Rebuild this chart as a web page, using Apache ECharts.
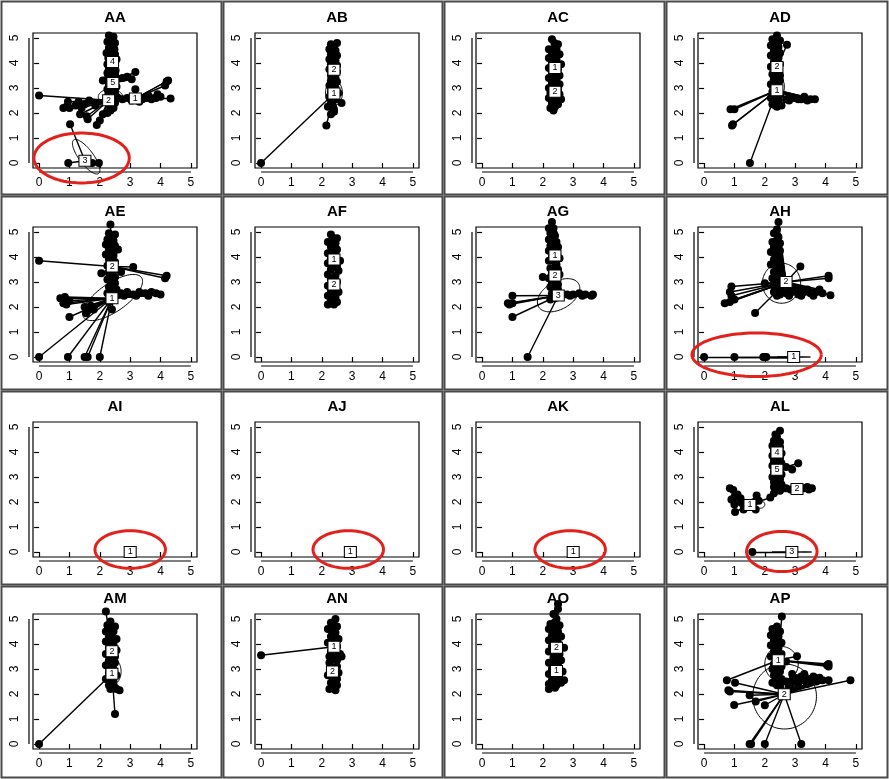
<!DOCTYPE html>
<html><head><meta charset="utf-8">
<script src="https://cdn.jsdelivr.net/npm/echarts@6/dist/echarts.min.js"></script>
<style>html,body{margin:0;padding:0;background:#fff}#c{width:889px;height:779px}</style>
</head><body><div id="c"></div>
<script>
const panelNames = ['AA','AB','AC','AD','AE','AF','AG','AH','AI','AJ','AK','AL','AM','AN','AO','AP'];
const tickValues = [0,1,2,3,4,5];

// ---- AA ----
const AA_ctr = [[3.17,2.58,'1'],[2.29,2.51,'2'],[1.51,0.09,'3'],[2.42,4.04,'4'],[2.43,3.2,'5']];
const AA_pts = [
 [[2.6,2.6],[2.75,2.55],[2.9,2.6],[3.05,2.5],[3.4,2.55],[3.55,2.6],[3.7,2.55],[3.85,2.6],[4.0,2.65],[4.33,2.58],[4.2,3.26],[4.25,3.3],[4.15,3.1],[3.17,2.95],[3.6,2.7],[3.9,2.75],[3.3,2.45]],
 [[2.5,2.85],[2.28,2.75],[2.55,2.65],[2.25,2.5],[2.5,2.4],[2.3,2.3],[2.45,2.2],[2.35,2.1],[2.4,2.7],[2.38,2.4],[2.4,2.25],[0,2.7],[0.8,2.2],[0.9,2.25],[1.0,2.2],[0.95,2.45],[1.2,2.3],[1.4,2.2],[1.5,2.35],[1.3,2.45],[1.65,2.5],[1.85,2.3],[1.57,1.87],[1.6,1.75],[1.9,1.52],[2.0,1.7],[2.1,1.95],[1.35,1.95],[2.25,2.0]],
 [[1.02,1.55],[0.96,0],[1.75,0],[1.97,0]],
 [[2.3,5.1],[2.45,5.05],[2.25,4.85],[2.5,4.8],[2.3,4.6],[2.48,4.55],[2.22,4.4],[2.5,4.35],[2.28,4.2],[2.55,4.15],[2.25,3.95],[2.5,3.9],[2.3,3.75],[2.52,3.7],[2.25,3.6],[2.38,5.0],[2.4,4.75],[2.36,4.5],[2.4,4.3],[2.38,3.85],[2.4,3.65]],
 [[2.5,3.55],[2.28,3.45],[2.55,3.4],[2.25,3.3],[2.1,3.3],[2.5,3.2],[2.3,3.1],[2.55,3.05],[2.25,2.95],[2.4,3.4],[2.38,3.0],[3.17,3.64],[3.05,3.35],[2.9,3.45],[2.75,3.4]]
];
const AA_ell = [[2.35,2.65,0.4,0,0,0.3],[1.55,0.25,-0.41,0.67,0.19,0.17]];

// ---- AB ----
const AB_ctr = [[2.4,2.78,'1'],[2.4,3.73,'2']];
const AB_pts = [
 [[2.3,3.3],[2.5,3.25],[2.25,3.1],[2.45,3.0],[2.3,2.85],[2.55,2.8],[2.25,2.65],[2.45,2.55],[2.3,2.4],[2.65,2.4],[2.2,2.25],[2.4,2.15],[2.3,1.95],[2.4,3.15],[2.38,2.95],[2.4,2.6],[2.36,2.3],[2.4,2.05],[2.15,1.5],[0,0]],
 [[2.3,4.75],[2.5,4.8],[2.25,4.55],[2.45,4.5],[2.3,4.35],[2.5,4.3],[2.25,4.15],[2.45,4.1],[2.3,3.95],[2.5,3.9],[2.25,3.75],[2.5,3.65],[2.3,3.5],[2.45,3.4],[2.38,4.65],[2.4,4.4],[2.36,4.2],[2.4,4.0],[2.38,3.55]]
];
const AB_ell = [[2.4,2.8,0.28,0,0,0.5]];

// ---- AC ----
const AC_ctr = [[2.4,3.8,'1'],[2.4,2.85,'2']];
const AC_pts = [
 [[2.3,4.95],[2.5,4.75],[2.2,4.55],[2.45,4.55],[2.3,4.4],[2.55,4.35],[2.2,4.2],[2.45,4.15],[2.3,4.0],[2.6,3.95],[2.2,3.8],[2.5,3.75],[2.3,3.6],[2.55,3.5],[2.2,3.4],[2.38,4.8],[2.4,4.6],[2.36,4.3],[2.4,4.05],[2.38,3.6],[2.4,3.45]],
 [[2.45,3.35],[2.3,3.2],[2.55,3.15],[2.2,3.0],[2.5,2.95],[2.25,2.8],[2.55,2.75],[2.2,2.6],[2.45,2.55],[2.3,2.4],[2.5,2.35],[2.25,2.2],[2.35,2.1],[2.6,2.55],[2.38,3.1],[2.4,2.65],[2.38,2.45],[2.4,2.25]]
];
const AC_ell = [];

// ---- AD ----
const AD_ctr = [[2.4,2.91,'1'],[2.4,3.84,'2']];
const AD_pts = [
 [[2.3,3.35],[2.5,3.3],[2.2,3.15],[2.45,3.05],[2.25,2.85],[2.5,2.75],[2.2,2.6],[2.45,2.5],[2.25,2.35],[2.4,2.25],[2.55,2.3],[2.38,3.2],[2.36,2.7],[2.4,2.45],[2.35,2.3],[2.7,2.55],[2.9,2.6],[3.1,2.55],[3.3,2.65],[3.5,2.55],[3.65,2.55],[2.8,2.5],[3.0,2.6],[3.2,2.55],[3.4,2.5],[0.87,2.15],[1.0,2.15],[0.95,1.55],[0.92,1.5],[1.51,0]],
 [[2.4,5.1],[2.25,4.95],[2.5,4.9],[2.2,4.7],[2.45,4.65],[2.3,4.5],[2.5,4.4],[2.2,4.3],[2.45,4.2],[2.3,4.05],[2.5,3.95],[2.2,3.85],[2.45,3.7],[2.25,3.55],[2.5,3.5],[2.38,4.8],[2.36,4.55],[2.4,4.35],[2.38,4.1],[2.36,3.6],[2.73,4.73]]
];
const AD_ell = [[2.4,3.05,0.25,0,0,0.4]];

// ---- AE ----
const AE_ctr = [[2.4,2.35,'1'],[2.41,3.62,'2']];
const AE_pts = [
 [[2.5,3.2],[2.25,3.1],[2.5,2.95],[2.3,2.8],[2.55,2.7],[2.25,2.55],[2.5,2.45],[2.38,3.05],[2.4,2.85],[2.38,2.6],[2.7,2.55],[2.9,2.6],[3.1,2.5],[3.3,2.6],[3.5,2.55],[3.7,2.6],[3.85,2.55],[4.0,2.5],[3.2,2.45],[3.6,2.45],[2.8,2.45],[0.7,2.35],[0.85,2.4],[0.8,2.15],[0.9,2.1],[1.0,2.25],[1.0,1.6],[1.5,2.0],[1.6,1.85],[1.7,2.05],[1.55,1.75],[1.8,1.9],[2.4,1.9],[0,0],[0.95,0],[1.5,0],[1.6,0],[2.0,0],[2.3,2.2]],
 [[2.35,5.3],[2.3,4.95],[2.5,4.9],[2.25,4.7],[2.45,4.65],[2.2,4.5],[2.5,4.45],[2.3,4.3],[2.6,4.3],[2.2,4.1],[2.45,4.05],[2.3,3.9],[2.5,3.8],[2.25,3.65],[2.5,3.5],[2.3,3.35],[2.38,4.8],[2.4,4.55],[2.38,4.2],[2.4,3.95],[2.4,3.45],[2.05,3.35],[0,3.85],[4.2,3.25],[4.15,3.15],[3.1,3.6],[2.7,3.4]]
];
const AE_ell = [[2.42,2.38,0.95,0.8,0.27,-0.46]];

// ---- AF ----
const AF_ctr = [[2.4,3.9,'1'],[2.4,2.9,'2']];
const AF_pts = [
 [[2.3,4.9],[2.5,4.75],[2.2,4.6],[2.45,4.55],[2.3,4.4],[2.5,4.3],[2.2,4.15],[2.45,4.1],[2.3,3.95],[2.6,3.85],[2.2,3.75],[2.5,3.65],[2.3,3.5],[2.55,3.45],[2.38,4.75],[2.4,4.45],[2.36,4.25],[2.38,4.05],[2.4,3.6]],
 [[2.2,3.3],[2.45,3.25],[2.3,3.1],[2.5,3.0],[2.2,2.85],[2.45,2.8],[2.3,2.65],[2.55,2.6],[2.2,2.45],[2.45,2.4],[2.3,2.25],[2.5,2.2],[2.2,2.1],[2.4,2.1],[2.38,3.15],[2.36,2.7],[2.4,2.5],[2.36,2.3],[2.35,2.15]]
];
const AF_ell = [];

// ---- AG ----
const AG_ctr = [[2.4,4.06,'1'],[2.4,3.26,'2'],[2.51,2.46,'3']];
const AG_pts = [
 [[2.3,5.4],[2.2,5.15],[2.35,5.15],[2.25,4.95],[2.4,4.85],[2.2,4.7],[2.45,4.6],[2.25,4.45],[2.5,4.4],[2.2,4.25],[2.45,4.2],[2.3,4.0],[2.55,3.95],[2.2,3.85],[2.45,3.7],[2.36,4.95],[2.38,4.55],[2.36,4.3],[2.4,3.8]],
 [[2.25,3.55],[2.5,3.5],[2.3,3.35],[2.55,3.3],[2.2,3.15],[2.45,3.1],[2.38,3.45],[2.36,3.0],[2.0,3.2],[2.3,2.95]],
 [[2.5,2.9],[2.25,2.8],[2.5,2.7],[2.3,2.55],[2.45,2.4],[2.25,2.3],[2.38,2.75],[2.4,2.35],[2.6,2.5],[2.8,2.5],[3.0,2.5],[3.2,2.55],[3.4,2.5],[3.6,2.45],[3.65,2.5],[2.9,2.45],[3.3,2.45],[1.0,2.45],[0.85,2.15],[0.9,2.1],[1.0,2.15],[1.0,1.6],[1.5,0]]
];
const AG_ell = [[2.52,2.47,0.66,0.46,0.23,-0.48]];

// ---- AH ----
const AH_ctr = [[2.95,0,'1'],[2.7,3.0,'2']];
const AH_pts = [
 [[0,0],[1,0],[1.95,0],[2.05,0],[2.0,0]],
 [[2.45,5.4],[2.4,5.1],[2.3,4.95],[2.45,4.8],[2.25,4.6],[2.5,4.55],[2.3,4.4],[2.5,4.25],[2.2,4.2],[2.45,4.05],[2.3,3.9],[2.5,3.8],[2.2,3.7],[2.45,3.55],[2.3,3.4],[2.5,3.3],[2.25,3.15],[2.5,3.0],[2.3,2.85],[2.55,2.75],[2.3,2.6],[2.5,2.5],[2.38,4.65],[2.4,4.35],[2.38,4.1],[2.36,3.75],[2.4,3.45],[2.38,3.1],[2.4,2.7],[2.4,2.45],[2.7,2.55],[2.9,2.6],[3.1,2.5],[3.3,2.6],[3.5,2.55],[3.7,2.6],[3.9,2.55],[2.8,2.45],[3.2,2.45],[3.6,2.45],[2.8,2.7],[3.2,2.65],[3.6,2.6],[3.8,2.7],[4.16,2.47],[3.0,2.7],[3.4,2.7],[4.1,3.25],[4.1,3.15],[3.17,3.62],[0.9,2.82],[0.85,2.6],[0.9,2.45],[0.68,2.15],[0.85,2.2],[1.0,2.3],[2.0,2.95],[1.68,1.76]]
];
const AH_ell = [[2.95,0,0.55,0,0,0],[2.55,2.95,0.63,0,0,0.8]];

// ---- AI, AJ, AK ----
const AI_ctr = [[3.0,0,'1']]; const AI_pts = [[]]; const AI_ell = [];
const AJ_ctr = [[2.94,0,'1']]; const AJ_pts = [[]]; const AJ_ell = [];
const AK_ctr = [[3.0,0,'1']]; const AK_pts = [[]]; const AK_ell = [];

// ---- AL ----
const AL_ctr = [[1.51,1.88,'1'],[3.06,2.52,'2'],[2.89,0,'3'],[2.4,3.98,'4'],[2.4,3.29,'5']];
const AL_pts = [
 [[0.85,2.55],[0.96,2.48],[1.0,2.2],[0.9,2.1],[1.1,2.3],[1.2,2.15],[1.02,1.6],[1.3,1.7],[1.25,1.95],[1.7,1.7],[1.65,2.0],[1.8,2.05],[1.73,2.26],[2.18,2.18],[1.0,1.9]],
 [[2.55,2.7],[2.3,2.6],[2.5,2.45],[2.3,2.35],[2.4,2.7],[2.4,2.5],[2.7,2.55],[2.85,2.5],[3.3,2.55],[3.45,2.5],[3.55,2.55],[3.4,2.6]],
 [[1.59,0]],
 [[2.5,4.85],[2.35,4.7],[2.4,4.6],[2.3,4.45],[2.5,4.4],[2.25,4.25],[2.5,4.2],[2.3,4.05],[2.55,3.95],[2.25,3.85],[2.5,3.75],[2.3,3.65],[2.4,4.35],[2.4,3.8]],
 [[2.55,3.55],[2.25,3.45],[2.5,3.35],[2.3,3.2],[2.55,3.1],[2.25,3.0],[2.5,2.9],[2.3,2.8],[2.4,3.45],[2.4,3.05],[2.4,2.85],[3.1,3.55],[2.9,3.3],[2.7,3.4]]
];
const AL_ell = [[1.85,1.9,0.15,0,0,0.15],[2.89,0,0.65,0,0,0]];

// ---- AM ----
const AM_ctr = [[2.4,2.81,'1'],[2.4,3.71,'2']];
const AM_pts = [
 [[2.5,3.25],[2.2,3.15],[2.45,3.0],[2.3,2.85],[2.55,2.75],[2.2,2.6],[2.45,2.5],[2.3,2.35],[2.55,2.2],[2.35,2.2],[2.65,2.15],[2.38,3.05],[2.4,2.65],[2.38,2.45],[2.45,2.3],[2.5,1.2],[0,0]],
 [[2.2,5.3],[2.35,4.9],[2.25,4.75],[2.5,4.7],[2.2,4.5],[2.45,4.5],[2.3,4.3],[2.55,4.2],[2.2,4.1],[2.45,4.0],[2.3,3.85],[2.55,3.75],[2.2,3.6],[2.5,3.5],[2.3,3.35],[2.38,4.6],[2.36,4.4],[2.4,4.15],[2.38,3.95],[2.4,3.45]]
];
const AM_ell = [[2.45,2.9,0.25,0,0,0.5]];

// ---- AN ----
const AN_ctr = [[2.4,3.89,'1'],[2.35,2.9,'2']];
const AN_pts = [
 [[2.45,5.0],[2.3,4.85],[2.5,4.7],[2.2,4.6],[2.45,4.45],[2.3,4.3],[2.55,4.2],[2.2,4.05],[2.5,3.9],[2.3,3.7],[2.6,3.6],[2.65,3.5],[2.25,3.5],[2.38,4.75],[2.36,4.5],[2.4,4.1],[2.38,3.75],[2.45,3.6],[0,3.55]],
 [[2.5,3.35],[2.25,3.25],[2.5,3.1],[2.3,2.95],[2.55,2.85],[2.2,2.75],[2.5,2.6],[2.3,2.45],[2.5,2.35],[2.25,2.2],[2.45,2.15],[2.35,2.3],[2.38,3.4],[2.4,3.05],[2.38,2.7],[2.36,2.5],[2.35,2.25]]
];
const AN_ell = [];

// ---- AO ----
const AO_ctr = [[2.45,2.92,'1'],[2.45,3.85,'2']];
const AO_pts = [
 [[2.6,3.35],[2.2,3.25],[2.5,3.15],[2.3,3.0],[2.65,2.9],[2.2,2.8],[2.5,2.7],[2.3,2.55],[2.7,2.55],[2.2,2.4],[2.45,2.35],[2.2,2.2],[2.4,2.25],[2.6,2.45],[2.4,3.3],[2.38,3.1],[2.45,2.7],[2.38,2.45],[2.3,2.3]],
 [[2.5,5.6],[2.5,5.4],[2.35,5.2],[2.45,5.0],[2.25,4.8],[2.55,4.75],[2.2,4.6],[2.5,4.5],[2.3,4.35],[2.6,4.3],[2.2,4.15],[2.5,4.05],[2.3,3.9],[2.7,3.85],[2.2,3.7],[2.55,3.6],[2.35,3.45],[2.38,4.85],[2.4,4.6],[2.38,4.4],[2.4,4.2],[2.45,3.6],[2.4,3.5]]
];
const AO_ell = [];

// ---- AP ----
const AP_ctr = [[2.44,3.35,'1'],[2.64,1.99,'2']];
const AP_pts = [
 [[2.56,5.1],[2.4,4.7],[2.25,4.6],[2.5,4.5],[2.2,4.35],[2.45,4.3],[2.3,4.15],[2.55,4.05],[2.2,3.95],[2.45,3.85],[2.3,3.7],[2.55,3.6],[2.2,3.5],[2.5,3.35],[2.3,3.2],[2.55,3.1],[2.38,4.6],[2.36,4.4],[2.4,4.2],[2.38,4.0],[2.36,3.6],[2.4,3.2],[4.1,3.2],[4.1,3.1],[4.05,3.15],[3.06,3.51],[0.75,2.55],[2.7,3.3]],
 [[2.25,3.0],[2.5,2.9],[2.3,2.75],[2.55,2.6],[2.25,2.45],[2.5,2.35],[2.4,3.0],[2.38,2.7],[2.4,2.5],[2.4,2.35],[2.7,2.5],[2.9,2.55],[3.1,2.45],[3.3,2.55],[3.5,2.6],[3.7,2.5],[3.9,2.55],[4.1,2.55],[2.8,2.35],[3.0,2.65],[3.4,2.4],[3.2,2.7],[3.6,2.7],[2.9,2.8],[3.3,2.8],[3.8,2.65],[3.5,2.45],[4.82,2.55],[1.02,2.45],[0.8,2.15],[0.85,2.1],[0.99,1.56],[1.5,1.95],[1.7,1.7],[2.0,1.55],[1.5,0],[1.55,0],[2.0,0],[3.2,0]]
];
const AP_ell = [[2.55,3.2,0.55,0,0,0.7],[2.65,1.9,1.05,0,0,1.3]];

// red highlight rings: [panel index, cx, cy, rx, ry]
const redRings = [[0,1.4,0.2,1.57,1.0],[7,1.73,0.09,2.13,0.87],[8,3.0,0.1,1.16,0.75],[9,2.87,0.1,1.16,0.75],[10,2.9,0.1,1.16,0.75],[11,2.56,0.02,1.16,0.8]];

const panels = [
 [AA_ctr,AA_pts,AA_ell],[AB_ctr,AB_pts,AB_ell],[AC_ctr,AC_pts,AC_ell],[AD_ctr,AD_pts,AD_ell],
 [AE_ctr,AE_pts,AE_ell],[AF_ctr,AF_pts,AF_ell],[AG_ctr,AG_pts,AG_ell],[AH_ctr,AH_pts,AH_ell],
 [AI_ctr,AI_pts,AI_ell],[AJ_ctr,AJ_pts,AJ_ell],[AK_ctr,AK_pts,AK_ell],[AL_ctr,AL_pts,AL_ell],
 [AM_ctr,AM_pts,AM_ell],[AN_ctr,AN_pts,AN_ell],[AO_ctr,AO_pts,AO_ell],[AP_ctr,AP_pts,AP_ell]
];

// layout
const colX = [0,222,443,665,888];
const rowY = [0,195,390,585,778];
const gridLeft = [33,255,476,698];
const gridTop = [33,227,422,614];
const GW = 164, GH = 135;
const FONT = 'Liberation Sans, Arial, Helvetica, sans-serif';

function ellRender(color, width){
  return function(params, api){
    const cx=api.value(0), cy=api.value(1), ax=api.value(2), ay=api.value(3), bx=api.value(4), by=api.value(5);
    const points=[];
    for(let k=0;k<=90;k++){
      const t=k/90*2*Math.PI;
      points.push(api.coord([cx+ax*Math.cos(t)+bx*Math.sin(t), cy+ay*Math.cos(t)+by*Math.sin(t)]));
    }
    return {type:'polyline', shape:{points:points}, style:{stroke:color, lineWidth:width, fill:null}};
  };
}

const option = {animation:false, backgroundColor:'#fff', grid:[], xAxis:[], yAxis:[], series:[], graphic:[]};

panels.forEach((p,i)=>{
  const ctr=p[0], pts=p[1], ell=p[2];
  const c=i%4, r=Math.floor(i/4);
  option.grid.push({left:gridLeft[c], top:gridTop[r], width:GW, height:GH, show:true, borderColor:'#000', borderWidth:1.2, backgroundColor:'transparent'});
  option.xAxis.push({gridIndex:i, type:'value', min:-0.2, max:5.2, offset:4,
    axisLine:{show:false}, splitLine:{show:false},
    axisTick:{show:true, length:5, customValues:tickValues, lineStyle:{color:'#000', width:1.2}},
    axisLabel:{customValues:tickValues, color:'#000', fontSize:12, margin:5, fontFamily:FONT}});
  option.yAxis.push({gridIndex:i, type:'value', min:-0.2, max:5.2, offset:4,
    axisLine:{show:false}, splitLine:{show:false},
    axisTick:{show:true, length:5, customValues:tickValues, lineStyle:{color:'#000', width:1.2}},
    axisLabel:{customValues:tickValues, color:'#000', fontSize:12, margin:8, rotate:90, fontFamily:FONT}});
  const segs=[];
  ctr.forEach((cc,k)=>{ (pts[k]||[]).forEach(pt=>segs.push({coords:[[cc[0],cc[1]],pt]})); });
  option.series.push({type:'lines', coordinateSystem:'cartesian2d', xAxisIndex:i, yAxisIndex:i, data:segs, silent:true,
    lineStyle:{color:'#000', width:1.4, opacity:1}, clip:false, z:2});
  option.series.push({type:'custom', coordinateSystem:'cartesian2d', xAxisIndex:i, yAxisIndex:i, data:ell, renderItem:ellRender('#000',1), clip:false, silent:true, z:3});
  option.series.push({type:'scatter', xAxisIndex:i, yAxisIndex:i, data:[].concat(...pts), symbol:'circle', symbolSize:8,
    itemStyle:{color:'#000', opacity:1}, clip:false, silent:true, z:4});
  option.series.push({type:'scatter', xAxisIndex:i, yAxisIndex:i, data:ctr, symbol:'rect', symbolSize:[12,11],
    itemStyle:{color:'#fff', borderColor:'#000', borderWidth:1, opacity:1}, clip:false, silent:true, z:5,
    label:{show:true, position:'inside', formatter:(d)=>d.value[2], fontSize:9, color:'#000', fontFamily:FONT}});
  option.graphic.push({type:'text', x:gridLeft[c]+GW/2, y:gridTop[r]-15, silent:true,
    style:{text:panelNames[i], font:'bold 15px '+FONT, fill:'#000', textAlign:'center', textVerticalAlign:'middle'}});
  option.graphic.push({type:'rect', silent:true, shape:{x:colX[c]+1.5, y:rowY[r]+1.5, width:colX[c+1]-colX[c]-2, height:rowY[r+1]-rowY[r]-2},
    style:{fill:null, stroke:'#4a4a4a', lineWidth:2}});
});

redRings.forEach(rr=>{
  option.series.push({type:'custom', coordinateSystem:'cartesian2d', xAxisIndex:rr[0], yAxisIndex:rr[0],
    data:[[rr[1],rr[2],rr[3],0,0,rr[4]]], renderItem:ellRender('#e3201b',3), clip:false, silent:true, z:10});
});

const chart = echarts.init(document.getElementById('c'), null, {renderer:'canvas'});
chart.setOption(option);

// R-style axis lines spanning 0..5, offset below/left of the box
const axisG = [];
panels.forEach((p,i)=>{
  const a = chart.convertToPixel({gridIndex:i},[0,-0.2]);
  const b = chart.convertToPixel({gridIndex:i},[5,5.2]);
  const y0 = chart.convertToPixel({gridIndex:i},[0,0]);
  const y5 = chart.convertToPixel({gridIndex:i},[0,5]);
  axisG.push({type:'line', silent:true, shape:{x1:a[0], y1:a[1]+4, x2:b[0], y2:a[1]+4}, style:{stroke:'#000', lineWidth:1.2}});
  const lx = chart.convertToPixel({gridIndex:i},[-0.2,0])[0] - 4;
  axisG.push({type:'line', silent:true, shape:{x1:lx, y1:y0[1], x2:lx, y2:y5[1]}, style:{stroke:'#000', lineWidth:1.2}});
});
chart.setOption({graphic: option.graphic.concat(axisG)});
</script>
</body></html>
